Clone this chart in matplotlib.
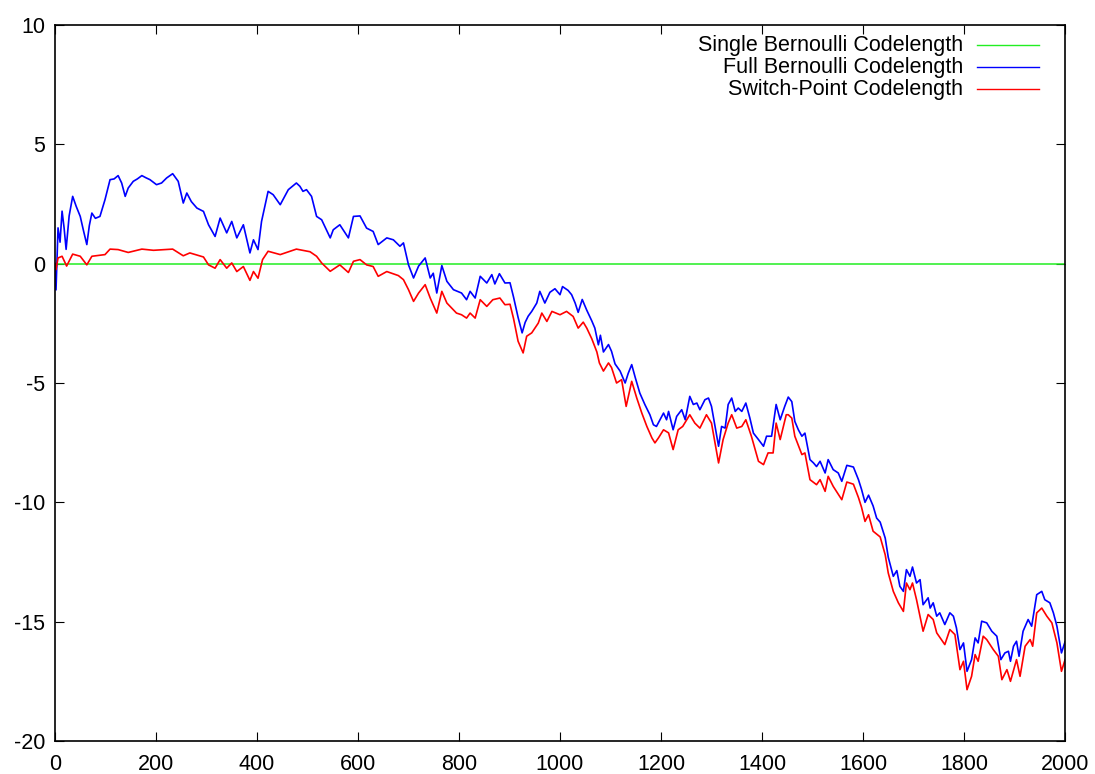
import matplotlib
matplotlib.use("Agg")
import matplotlib.pyplot as plt

plt.rcParams['font.family'] = ['Liberation Sans', 'DejaVu Sans']
plt.rcParams['axes.unicode_minus'] = False

# values (sample index, codelength difference)
full_x = [0, 2, 6, 10, 14, 18, 22, 28, 35, 42, 50, 56, 63, 68, 73, 80, 89, 99, 109, 117,
          125, 132, 139, 145, 155, 163, 172, 180, 188, 201, 211, 221, 233, 244, 254, 261,
          270, 281, 294, 304, 317, 327, 340, 350, 360, 373, 380, 386, 393, 402, 409, 422,
          432, 446, 462, 478, 485, 491, 498, 508, 518, 528, 545, 551, 564, 581, 591, 604,
          617, 630, 640, 657, 670, 683, 690, 700, 710, 720, 733, 743, 749, 756, 766, 776,
          789, 805, 815, 822, 832, 842, 855, 865, 871, 880, 891, 901, 908, 917, 925, 931,
          937, 944, 954, 960, 970, 980, 990, 1000, 1005, 1016, 1023, 1030, 1036, 1044,
          1053, 1063, 1069, 1076, 1080, 1086, 1096, 1102, 1109, 1119, 1129, 1135, 1142,
          1149, 1158, 1168, 1178, 1185, 1191, 1198, 1205, 1211, 1215, 1224, 1231, 1241,
          1248, 1257, 1264, 1271, 1277, 1287, 1294, 1300, 1307, 1314, 1320, 1327, 1333,
          1340, 1347, 1353, 1360, 1368, 1376, 1383, 1393, 1403, 1409, 1419, 1428, 1436,
          1445, 1452, 1459, 1465, 1472, 1479, 1485, 1495, 1502, 1508, 1515, 1525, 1531,
          1541, 1551, 1558, 1568, 1581, 1591, 1597, 1604, 1611, 1620, 1627, 1634, 1644,
          1650, 1660, 1667, 1673, 1680, 1686, 1693, 1698, 1706, 1713, 1719, 1729, 1733,
          1739, 1746, 1752, 1762, 1772, 1779, 1785, 1792, 1799, 1806, 1815, 1822, 1828,
          1835, 1845, 1855, 1865, 1873, 1881, 1888, 1892, 1898, 1904, 1909, 1917, 1927,
          1934, 1944, 1954, 1960, 1970, 1977, 1984, 1993, 2000]
full_y = [0.0, -1.1, 1.5, 0.9, 2.2, 1.5, 0.6, 2.0, 2.82, 2.4, 1.98, 1.42, 0.8, 1.6, 2.12,
          1.9, 1.98, 2.68, 3.52, 3.55, 3.69, 3.38, 2.82, 3.17, 3.45, 3.55, 3.69, 3.6, 3.52,
          3.31, 3.38, 3.59, 3.77, 3.45, 2.54, 2.96, 2.6, 2.33, 2.19, 1.63, 1.14, 1.91, 1.29,
          1.77, 1.08, 1.63, 1.0, 0.45, 1.0, 0.59, 1.77, 3.03, 2.89, 2.47, 3.1, 3.38, 3.24,
          3.03, 3.1, 2.82, 1.98, 1.84, 1.08, 1.42, 1.63, 1.08, 1.98, 2.0, 1.49, 1.35, 0.8,
          1.08, 1.0, 0.73, 0.87, -0.05, -0.6, -0.1, 0.24, -0.6, -0.4, -1.23, -0.08, -0.74,
          -1.09, -1.23, -1.51, -1.16, -1.44, -0.53, -0.81, -0.46, -0.85, -0.42, -0.81, -0.8,
          -1.4, -2.25, -2.9, -2.46, -2.2, -2.0, -1.65, -1.16, -1.65, -1.2, -1.05, -1.3,
          -0.96, -1.12, -1.3, -1.65, -2.04, -1.5, -1.95, -2.4, -2.7, -3.4, -3.0, -3.7, -3.39,
          -3.67, -4.2, -4.5, -5.0, -4.6, -4.23, -4.77, -5.42, -5.9, -6.33, -6.75, -6.82,
          -6.54, -6.26, -6.54, -6.19, -6.96, -6.4, -6.12, -6.54, -5.56, -5.9, -5.84, -6.12,
          -5.7, -5.63, -5.98, -6.82, -7.65, -6.82, -6.89, -5.9, -5.63, -6.19, -6.05, -6.19,
          -5.84, -6.47, -7.1, -7.37, -7.65, -7.23, -7.23, -5.9, -6.54, -5.98, -5.59, -5.78,
          -6.61, -6.96, -7.23, -7.1, -8.21, -8.35, -8.5, -8.28, -8.77, -8.21, -8.63, -8.77,
          -9.12, -8.45, -8.52, -9.05, -9.45, -10.0, -9.7, -10.15, -10.66, -10.83, -11.5,
          -12.3, -13.1, -12.86, -13.52, -13.73, -12.82, -13.1, -12.71, -13.38, -13.24,
          -14.29, -14.0, -14.43, -14.21, -14.77, -14.63, -15.12, -14.63, -14.77, -15.26,
          -16.17, -15.89, -17.08, -16.59, -15.68, -15.89, -14.98, -15.05, -15.4, -15.61,
          -16.59, -16.31, -16.24, -16.66, -16.03, -15.82, -16.45, -15.4, -14.91, -15.19,
          -13.87, -13.73, -14.08, -14.21, -14.63, -15.19, -16.31, -15.85]

switch_x = [0, 2, 6, 14, 23, 35, 50, 63, 73, 99, 109, 125, 145, 172, 195, 233, 254, 267,
            294, 304, 317, 327, 340, 350, 360, 373, 386, 393, 402, 411, 422, 446, 478, 505,
            518, 528, 545, 564, 581, 591, 604, 617, 630, 640, 657, 680, 690, 700, 710, 720,
            733, 743, 756, 766, 776, 795, 805, 815, 822, 832, 842, 855, 867, 881, 891, 901,
            908, 917, 927, 934, 944, 957, 964, 974, 984, 1000, 1013, 1026, 1036, 1046, 1053,
            1063, 1073, 1078, 1086, 1096, 1102, 1112, 1122, 1131, 1142, 1152, 1162, 1172,
            1182, 1188, 1195, 1205, 1215, 1224, 1234, 1243, 1257, 1267, 1277, 1290, 1300,
            1314, 1323, 1333, 1340, 1350, 1360, 1368, 1379, 1393, 1403, 1412, 1422, 1428,
            1436, 1448, 1452, 1459, 1465, 1479, 1485, 1495, 1508, 1515, 1525, 1531, 1541,
            1558, 1568, 1581, 1591, 1597, 1604, 1611, 1620, 1634, 1644, 1650, 1660, 1670,
            1680, 1686, 1693, 1698, 1706, 1719, 1729, 1739, 1746, 1762, 1772, 1782, 1792,
            1799, 1806, 1815, 1822, 1828, 1838, 1845, 1858, 1868, 1875, 1885, 1892, 1904,
            1911, 1921, 1931, 1936, 1944, 1954, 1964, 1974, 1984, 1993, 2000]
switch_y = [0.0, -0.25, 0.24, 0.31, -0.1, 0.4, 0.31, -0.05, 0.31, 0.38, 0.61, 0.59, 0.47,
            0.61, 0.56, 0.61, 0.33, 0.45, 0.28, -0.05, -0.19, 0.17, -0.19, 0.03, -0.33,
            -0.12, -0.7, -0.33, -0.61, 0.17, 0.52, 0.38, 0.61, 0.5, 0.31, 0.03, -0.32, -0.05,
            -0.37, 0.1, 0.17, -0.05, -0.12, -0.53, -0.33, -0.5, -0.67, -1.09, -1.58, -1.23,
            -0.88, -1.44, -2.07, -1.16, -1.65, -2.07, -2.14, -2.28, -2.07, -2.28, -1.51,
            -1.79, -1.51, -1.44, -1.72, -1.7, -2.3, -3.25, -3.74, -3.04, -2.9, -2.49, -2.07,
            -2.42, -2.0, -2.14, -2.0, -2.21, -2.7, -2.45, -2.7, -3.15, -3.7, -4.16, -4.5,
            -4.16, -4.35, -5.0, -4.86, -5.98, -4.93, -5.63, -6.26, -6.82, -7.3, -7.51, -7.3,
            -6.96, -7.09, -7.79, -6.96, -6.82, -6.33, -6.68, -6.89, -6.33, -6.68, -8.35,
            -7.37, -6.68, -6.33, -6.89, -6.82, -6.54, -7.23, -8.28, -8.42, -7.93, -7.93,
            -6.68, -7.37, -6.33, -6.33, -6.47, -7.23, -8.0, -7.93, -9.05, -9.26, -9.05, -9.54,
            -8.91, -9.33, -9.89, -9.15, -9.24, -9.8, -10.2, -10.8, -10.52, -11.21, -11.45,
            -12.2, -12.96, -13.73, -14.21, -14.57, -13.38, -13.66, -13.38, -14.08, -15.4,
            -14.7, -14.91, -15.47, -15.96, -15.33, -15.54, -17.01, -16.66, -17.85, -17.29,
            -16.38, -16.66, -15.61, -15.75, -16.17, -16.45, -17.43, -17.01, -17.5, -16.59,
            -17.29, -16.03, -15.75, -16.03, -14.63, -14.43, -14.77, -15.05, -15.89, -17.08,
            -16.6]

single_x = [0, 2000]
single_y = [0, 0]

labels = ["Single Bernoulli Codelength", "Full Bernoulli Codelength", "Switch-Point Codelength"]
colors = ["#22ee22", "#0000ff", "#ff0000"]

fig = plt.figure(figsize=(10.95, 7.74), dpi=100)
ax = fig.add_axes([55 / 1095, 33 / 774, 1010 / 1095, 716 / 774])

ax.plot(single_x, single_y, color=colors[0], lw=1.1)
ax.plot(full_x, full_y, color=colors[1], lw=1.2)
ax.plot(switch_x, switch_y, color=colors[2], lw=1.2)

ax.set_xlim(0, 2000)
ax.set_ylim(-20, 10)
ax.set_xticks(range(0, 2001, 200))
ax.set_yticks(range(-20, 11, 5))
ax.tick_params(direction='in', length=6.5, width=0.8, top=True, right=True,
               labelsize=15.5)
ax.tick_params(axis='x', pad=9.5)
ax.tick_params(axis='y', pad=7)
for s in ax.spines.values():
    s.set_linewidth(1.2)

# gnuplot-style key: right-aligned text with the line sample after it
for i, (lab, col) in enumerate(zip(labels, colors)):
    yk = 1 - (20 + 22 * i) / 716
    ax.text(908 / 1010, yk, lab, transform=ax.transAxes, ha='right', va='center',
            fontsize=15.5)
    ax.plot([922 / 1010, 984 / 1010], [yk, yk], transform=ax.transAxes,
            color=col, lw=1.0)

fig.savefig("out.png", dpi=100)
